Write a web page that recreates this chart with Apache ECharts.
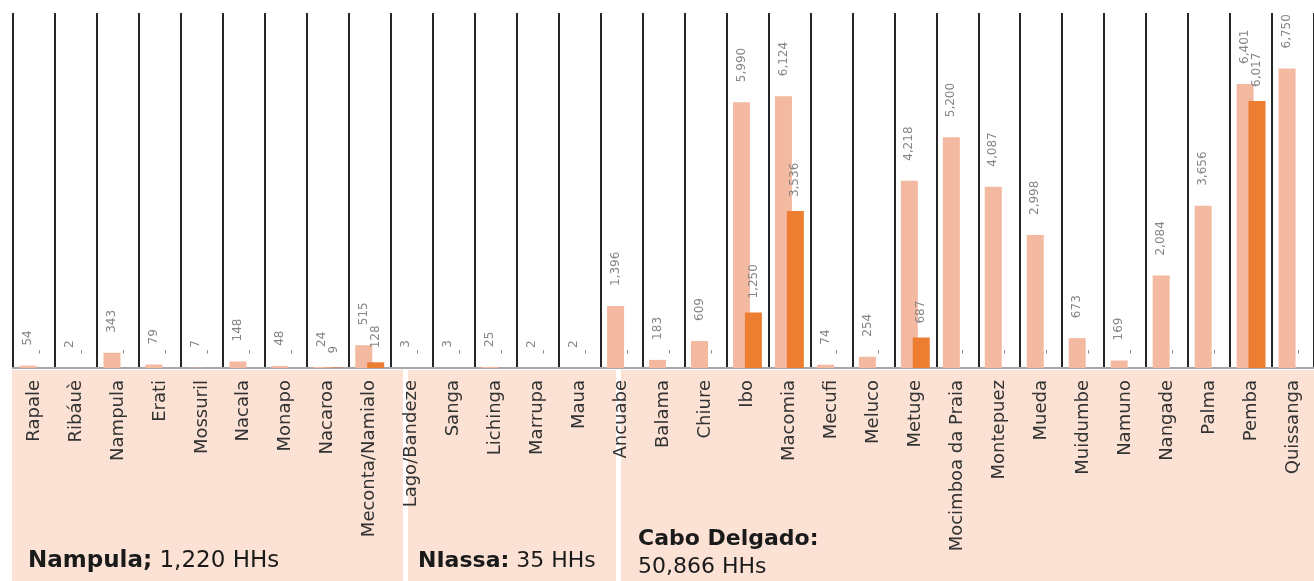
<!DOCTYPE html>
<html>
<head>
<meta charset="utf-8">
<script src="https://cdn.jsdelivr.net/npm/echarts@6/dist/echarts.min.js"></script>
<style>
  html, body { margin: 0; padding: 0; background: #fff; }
  #chart { width: 1314px; height: 581px; }
</style>
</head>
<body>
<div id="chart"></div>
<script>
// districts, grouped by province (Nampula, Niassa, Cabo Delgado)
const districts = [
  'Rapale', 'Ribáuè', 'Nampula', 'Erati', 'Mossuril', 'Nacala', 'Monapo', 'Nacaroa', 'Meconta/Namialo',
  'Lago/Bandeze', 'Sanga', 'Lichinga', 'Marrupa', 'Maua',
  'Ancuabe', 'Balama', 'Chiure', 'Ibo', 'Macomia', 'Mecufi', 'Meluco', 'Metuge', 'Mocimboa da Praia',
  'Montepuez', 'Mueda', 'Muidumbe', 'Namuno', 'Nangade', 'Palma', 'Pemba', 'Quissanga'
];

// households per district (light bars)
const totalHHs = [
  54, 2, 343, 79, 7, 148, 48, 24, 515,
  3, 3, 25, 2, 2,
  1396, 183, 609, 5990, 6124, 74, 254, 4218, 5200,
  4087, 2998, 673, 169, 2084, 3656, 6401, 6750
];

// second series (dark bars)
const subsetHHs = [
  0, 0, 0, 0, 0, 0, 0, 9, 128,
  0, 0, 0, 0, 0,
  0, 0, 0, 1250, 3536, 0, 0, 687, 0,
  0, 0, 0, 0, 0, 0, 6017, 0
];

const provinces = [
  { name: 'Nampula;', rest: ' 1,220 HHs' },
  { name: 'NIassa:', rest: ' 35 HHs' },
  { name: 'Cabo Delgado:', rest: '50,866 HHs' }
];

const FONT = '"DejaVu Sans", sans-serif';
const fmt = v => v.toLocaleString('en-US');

const chart = echarts.init(document.getElementById('chart'));

const option = {
  animation: false,
  grid: { left: 13, width: 1302, top: 13, bottom: 213 },
  xAxis: {
    type: 'category',
    data: districts,
    boundaryGap: true,
    axisLine: { lineStyle: { color: '#a6a6a6', width: 2 } },
    axisTick: { show: false },
    axisLabel: {
      interval: 0,
      rotate: 90,
      margin: 12,
      color: '#333333',
      fontSize: 18,
      fontFamily: FONT
    },
    splitLine: {
      show: true,
      interval: 0,
      lineStyle: { color: '#262626', width: 2 }
    }
  },
  yAxis: {
    type: 'value',
    min: 0,
    max: 8000,
    show: false,
    splitLine: { show: false }
  },
  series: [
    {
      name: 'HHs',
      type: 'bar',
      data: totalHHs,
      barWidth: 17,
      barGap: '-30%',
      itemStyle: { color: '#f4b9a1' },
      label: {
        show: true,
        position: 'top',
        rotate: 90,
        align: 'left',
        verticalAlign: 'middle',
        distance: 20,
        color: '#858585',
        fontSize: 12,
        fontFamily: FONT,
        formatter: p => fmt(p.value)
      }
    },
    {
      name: 'Subset',
      type: 'bar',
      data: subsetHHs,
      barWidth: 17,
      z: 3,
      itemStyle: { color: '#ed7d31' },
      label: {
        show: true,
        position: 'top',
        rotate: 90,
        align: 'left',
        verticalAlign: 'middle',
        distance: 14,
        color: '#858585',
        fontSize: 12,
        fontFamily: FONT,
        formatter: p => (p.value === 0 ? '-' : fmt(p.value))
      }
    }
  ],
  graphic: [
    // peach label band with white separators between provinces
    { type: 'rect', z: -10, shape: { x: 12, y: 370, width: 1302, height: 211 }, style: { fill: '#fbe2d4' } },
    { type: 'rect', z: -9, shape: { x: 403, y: 370, width: 5, height: 211 }, style: { fill: '#ffffff' } },
    { type: 'rect', z: -9, shape: { x: 616, y: 370, width: 5, height: 211 }, style: { fill: '#ffffff' } },
    {
      type: 'text', z: 10, x: 28, y: 561,
      style: {
        text: '{b|' + provinces[0].name + '}' + provinces[0].rest,
        rich: { b: { fontWeight: 'bold', fontSize: 23, fontFamily: FONT, fill: '#1a1a1a' } },
        fontSize: 23, fontFamily: FONT, fill: '#1a1a1a', verticalAlign: 'middle'
      }
    },
    {
      type: 'text', z: 10, x: 418, y: 561,
      style: {
        text: '{b|' + provinces[1].name + '}' + provinces[1].rest,
        rich: { b: { fontWeight: 'bold', fontSize: 22, fontFamily: FONT, fill: '#1a1a1a' } },
        fontSize: 22, fontFamily: FONT, fill: '#1a1a1a', verticalAlign: 'middle'
      }
    },
    {
      type: 'text', z: 10, x: 638, y: 539,
      style: {
        text: provinces[2].name,
        fontSize: 22, fontWeight: 'bold', fontFamily: FONT, fill: '#1a1a1a', verticalAlign: 'middle'
      }
    },
    {
      type: 'text', z: 10, x: 638, y: 567,
      style: {
        text: provinces[2].rest,
        fontSize: 22, fontFamily: FONT, fill: '#1a1a1a', verticalAlign: 'middle'
      }
    }
  ]
};

chart.setOption(option);
</script>
</body>
</html>
